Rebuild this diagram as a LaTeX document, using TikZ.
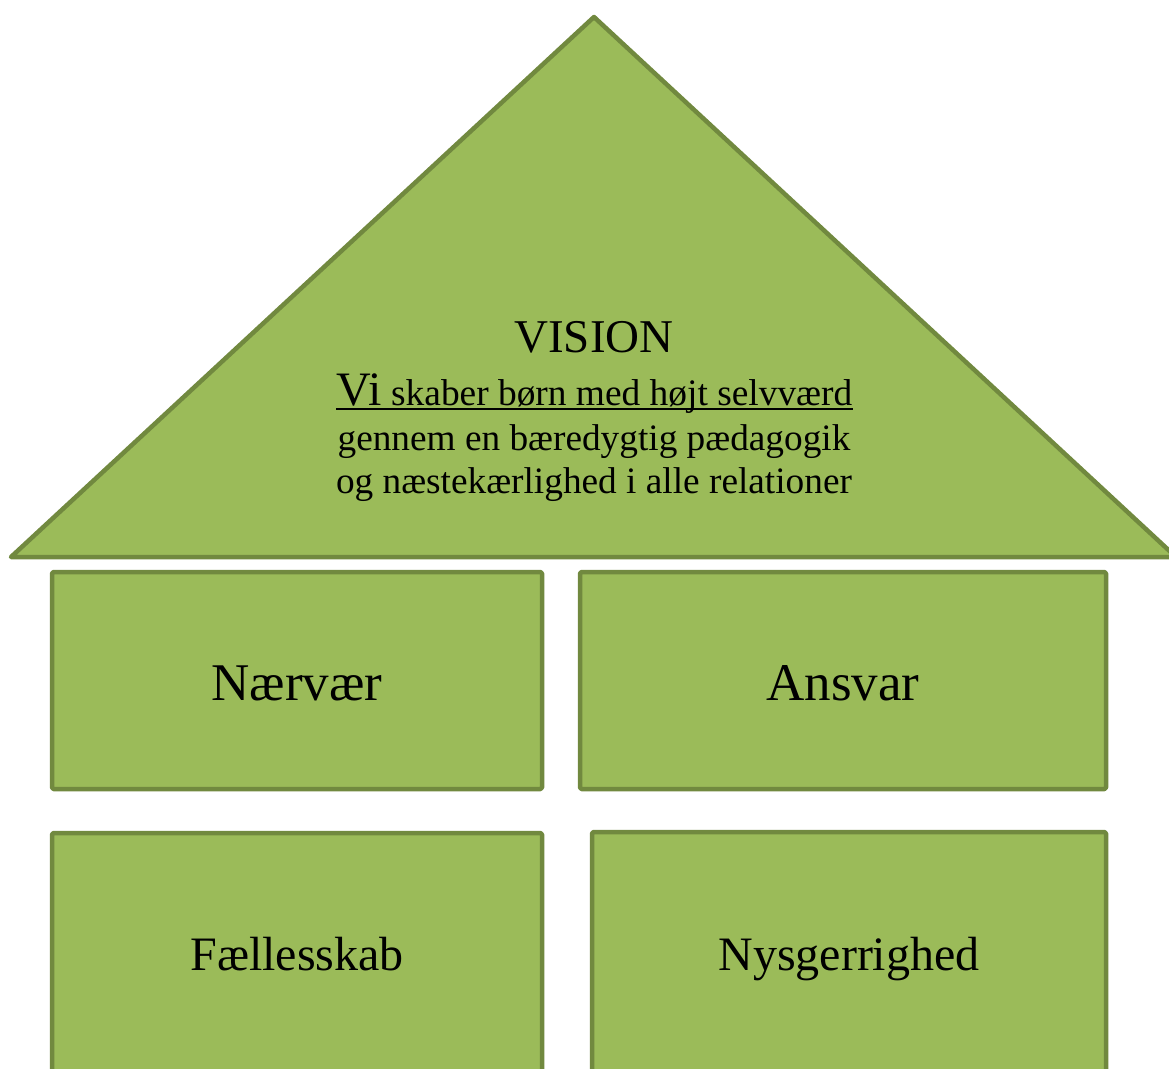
\documentclass[tikz,border=0pt]{standalone}
\usepackage{fontspec}
\setmainfont{Liberation Serif}
\definecolor{olivefill}{HTML}{9BBB59}
\definecolor{olivedraw}{HTML}{71893F}
\begin{document}
\begin{tikzpicture}[x=1pt,y=-1pt,
  part/.style={draw=olivedraw, fill=olivefill, line width=4.5pt, line join=round},
  pillar/.style={part, rounded corners=1.5pt, anchor=north west, inner sep=0pt, outer sep=0pt},
  lbl/.style={inner sep=0pt, anchor=base, text=black}]
\clip (0,0) rectangle (1169,1068);
% roof
\coordinate (apex) at (594,17);
\coordinate (bl) at (11,557);
\coordinate (br) at (1176,557);
\draw[part] (bl) -- (apex) -- (br) -- cycle;
% pillars
\node[pillar, minimum width=490, minimum height=217] (p1) at (52,572) {};
\node[pillar, minimum width=526, minimum height=217] (p2) at (580,572) {};
\node[pillar, minimum width=490, minimum height=260] (p3) at (52,833) {};
\node[pillar, minimum width=514, minimum height=260] (p4) at (592,832) {};
% roof text
\node[lbl] (vision) at (594,352) {\fontsize{47}{54}\selectfont VISION};
\node[lbl] (l2) at (594.5,405) {\fontsize{48}{54}\selectfont Vi\fontsize{37.4}{43}\selectfont{} skaber børn med højt selvværd};
\draw[black, line width=2pt] ([yshift=-4pt]l2.base west) -- ([yshift=-4pt]l2.base east);
\node[lbl] (l3) at (594,450) {\fontsize{37.3}{43}\selectfont gennem en bæredygtig pædagogik};
\node[lbl] (l4) at (594,493) {\fontsize{37.3}{43}\selectfont og næstekærlighed i alle relationer};
% pillar text
\node[lbl] (t1) at (297,700) {\fontsize{53}{60}\selectfont Nærvær};
\node[lbl] (t2) at (843,700) {\fontsize{53}{60}\selectfont Ansvar};
\node[lbl] (t3) at (297,970) {\fontsize{48}{55}\selectfont Fællesskab};
\node[lbl] (t4) at (849,970) {\fontsize{48}{55}\selectfont Nysgerrighed};
\end{tikzpicture}
\end{document}
